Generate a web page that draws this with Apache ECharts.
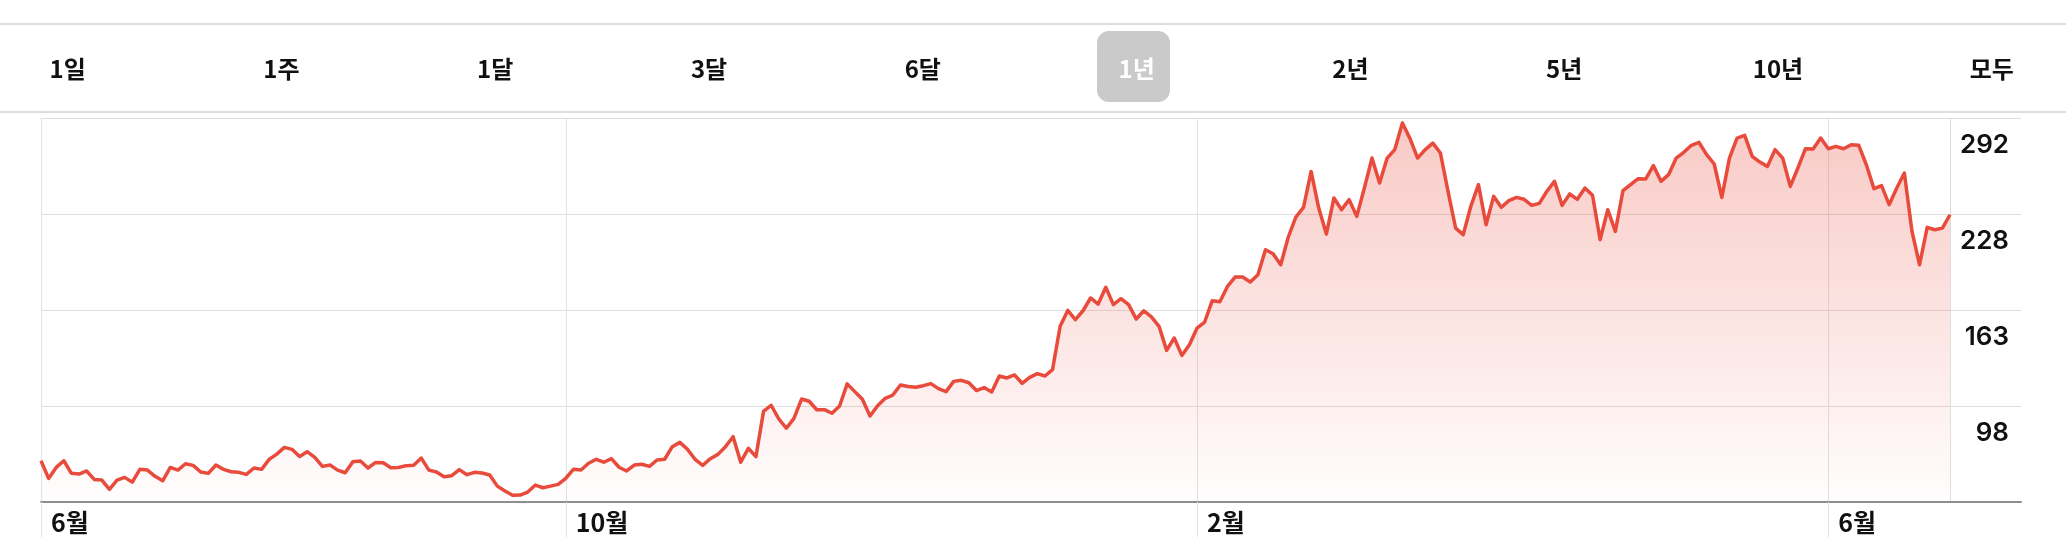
<!DOCTYPE html>
<html lang="ko">
<head>
<meta charset="utf-8">
<title>1년 주가 차트</title>
<script src="https://cdn.jsdelivr.net/npm/echarts@6/dist/echarts.min.js"></script>
<style>
  html, body { margin: 0; padding: 0; background: #ffffff; }
  #chart { width: 2066px; height: 558px; }
</style>
</head>
<body>
<div id="chart"></div>
<script>
// ---- data ----
const periodLabels = ['1일', '1주', '1달', '3달', '6달', '1년', '2년', '5년', '10년', '모두'];
const selectedPeriod = '1년';

// right-axis tick labels (bottom to top gridlines)
const yTickLabels = ['98', '163', '228', '292'];
const yMin = 33.6;
const yMax = 292.4;

// trading calendar
const startDate = '2022-06-24';
const holidays = ['2022-07-04', '2022-09-05', '2022-11-24', '2022-12-26', '2023-01-02',
  '2023-01-16', '2023-02-20', '2023-04-07', '2023-05-29', '2023-06-19'];
const monthLabelSuffix = '월';

// daily closing prices
const pricesJunSep = [
  61.4, 49.5, 56.9, 61.4, 52.9, 52.4, 54.5, 48.8, 48.4, 42.1,
  48.4, 50.2, 47.0, 55.6, 55.1, 50.9, 47.9, 56.9, 55.1, 59.4,
  58.3, 53.8, 52.9, 58.5, 55.6, 54.0, 53.6, 52.2, 56.5, 55.6,
  62.3, 65.9, 70.4, 69.1, 64.3, 67.5, 63.7, 57.6, 58.5, 55.1,
  53.3, 60.7, 61.2, 56.5, 60.3, 60.1, 56.7, 56.9, 58.1, 58.3,
  63.2, 55.1, 53.8, 50.6, 51.3, 55.4, 52.0, 53.6, 53.1, 51.8,
  44.3, 41.0, 38.1, 38.3, 40.3, 45.0, 43.2, 44.3, 45.5
];
const pricesOctDec = [
  49.6, 55.6, 55.2, 59.7, 62.4, 60.4, 62.8, 57.0, 54.5, 58.5,
  59.0, 57.6, 61.9, 62.4, 70.9, 73.8, 69.1, 62.4, 58.3, 62.8,
  65.7, 70.9, 77.6, 60.4, 69.8, 64.2, 94.7, 98.8, 89.6, 83.3,
  90.0, 103.0, 101.5, 95.8, 95.8, 93.4, 98.3, 113.2, 108.0, 102.8,
  91.6, 98.5, 103.5, 105.7, 112.5, 111.4, 110.9, 112.0, 113.4, 110.0,
  108.0, 114.9, 115.6, 114.0, 108.7, 110.7, 107.8, 118.5, 117.2, 119.2,
  113.6, 117.6
];
const pricesDecMar = [
  120.1, 118.5, 122.8, 152.0, 162.7, 156.5, 162.5, 171.1, 167.0, 178.3,
  166.6, 170.6, 166.6, 156.9, 162.5, 158.3, 152.0, 135.8, 144.1, 132.4,
  139.6, 150.8, 154.9, 169.3, 168.6, 178.9, 185.2, 185.2, 181.9, 186.8,
  203.6, 200.9, 193.5, 212.2, 225.7, 232.2, 256.4, 231.7, 214.2, 238.5,
  230.6, 237.4, 226.1, 245.2, 265.4, 248.6, 265.4, 271.1, 289.0, 278.5,
  265.4, 271.1, 275.5, 268.8, 243.0, 218.2, 213.8, 232.9, 247.5, 220.5
];
const pricesMarJun = [
  239.6, 232.2, 236.7, 238.9, 237.6, 233.5, 234.9, 243.0, 249.7, 233.5,
  241.2, 237.6, 245.2, 240.3, 210.4, 230.6, 216.0, 243.4, 247.5, 251.5,
  251.3, 260.3, 249.7, 254.2, 265.4, 269.3, 274.0, 276.0, 267.7, 261.4,
  238.9, 265.4, 278.9, 280.7, 266.6, 262.7, 259.8, 271.1, 265.4, 246.3,
  258.7, 271.7, 271.5, 278.9, 271.7, 273.3, 271.7, 274.4, 274.0, 260.9,
  244.8, 246.8, 234.0, 245.2, 255.3, 216.0, 193.5, 218.7, 217.1, 218.2,
  227.2
];
const prices = [].concat(pricesJunSep, pricesOctDec, pricesDecMar, pricesMarJun);

// ---- build trading-day categories ----
function buildDates(start, n, skip) {
  const out = [];
  const d = new Date(start + 'T00:00:00Z');
  while (out.length < n) {
    const wd = d.getUTCDay();
    const s = d.toISOString().slice(0, 10);
    if (wd !== 0 && wd !== 6 && skip.indexOf(s) < 0) out.push(s);
    d.setUTCDate(d.getUTCDate() + 1);
  }
  return out;
}
const dates = buildDates(startDate, prices.length, holidays);
const monthOf = (s) => +s.slice(5, 7);
function isMonthMark(i) {
  const first = i === 0 || monthOf(dates[i - 1]) !== monthOf(dates[i]);
  return first && ((monthOf(dates[i]) - 6 + 12) % 4 === 0);
}

// ---- chart ----
const chart = echarts.init(document.getElementById('chart'), null, { renderer: 'canvas' });
const korFont = '"Noto Sans CJK KR", "Noto Sans", sans-serif';
const lineColor = '#e84a3b';

const option = {
  animation: false,
  backgroundColor: '#ffffff',
  grid: [
    { left: 41, right: 116, top: 118, bottom: 56, outerBoundsMode: 'none', containLabel: false },
    { left: 41, right: 45, top: 118, bottom: 56, outerBoundsMode: 'none', containLabel: false }
  ],
  xAxis: [
    {
      type: 'category',
      gridIndex: 0,
      data: dates,
      boundaryGap: false,
      axisLine: { show: false },
      axisTick: {
        show: true,
        interval: (i) => isMonthMark(i),
        length: 35,
        lineStyle: { color: '#e2e2e2', width: 1 }
      },
      axisLabel: {
        show: true,
        interval: (i) => isMonthMark(i),
        formatter: (v) => monthOf(v) + monthLabelSuffix,
        align: 'left',
        padding: [0, 0, 0, 10],
        margin: 8,
        fontSize: 25,
        fontWeight: 'bold',
        fontFamily: korFont,
        color: '#111111'
      },
      splitLine: {
        show: true,
        interval: (i) => isMonthMark(i),
        lineStyle: { color: '#e2e2e2', width: 1 }
      }
    },
    {
      type: 'value',
      gridIndex: 1,
      min: 0,
      max: 1,
      axisLine: { show: true, lineStyle: { color: '#8e8e8e', width: 2 } },
      axisTick: { show: false },
      axisLabel: { show: false },
      splitLine: { show: false }
    }
  ],
  yAxis: [
    {
      type: 'value',
      gridIndex: 0,
      min: yMin,
      max: yMax,
      position: 'right',
      axisLine: { show: true, lineStyle: { color: '#dedede', width: 1 } },
      axisTick: { show: false },
      axisLabel: { show: false },
      splitLine: { show: false }
    },
    {
      type: 'value',
      gridIndex: 1,
      min: 0,
      max: yTickLabels.length,
      interval: 1,
      position: 'right',
      axisLine: { show: false },
      axisTick: { show: false },
      splitLine: { show: true, lineStyle: { color: '#dedede', width: 1 } },
      axisLabel: {
        show: true,
        inside: true,
        showMinLabel: true,
        showMaxLabel: true,
        margin: 12,
        align: 'right',
        verticalAlign: 'top',
        lineHeight: 54,
        fontSize: 26,
        fontWeight: 600,
        fontFamily: 'Inter, "Noto Sans", sans-serif',
        color: '#111111',
        formatter: (v) => (v >= 1 ? yTickLabels[Math.round(v) - 1] : '')
      }
    }
  ],
  series: [
    {
      type: 'line',
      xAxisIndex: 0,
      yAxisIndex: 0,
      data: prices,
      symbol: 'none',
      showSymbol: false,
      lineStyle: { color: lineColor, width: 3.5, join: 'round' },
      areaStyle: {
        color: new echarts.graphic.LinearGradient(0, 0, 0, 1, [
          { offset: 0, color: 'rgba(232,74,59,0.42)' },
          { offset: 1, color: 'rgba(232,74,59,0.01)' }
        ])
      },
      z: 3
    }
  ],
  graphic: [
    { type: 'line', silent: true, shape: { x1: 0, y1: 24, x2: 2066, y2: 24 }, style: { stroke: '#d2d2d2', lineWidth: 1.5 } },
    { type: 'line', silent: true, shape: { x1: 0, y1: 112, x2: 2066, y2: 112 }, style: { stroke: '#d2d2d2', lineWidth: 1.5 } },
    { type: 'rect', silent: true, shape: { x: 1097, y: 31, width: 73, height: 71, r: 12 }, style: { fill: '#cacaca' } }
  ].concat(periodLabels.map((t, i) => ({
    type: 'text',
    silent: true,
    x: 67.6 + 213.8 * i,
    y: 69,
    z: 10,
    style: {
      text: t,
      align: 'center',
      verticalAlign: 'middle',
      fontSize: 24,
      fontWeight: 'bold',
      fontFamily: korFont,
      fill: t === selectedPeriod ? '#ffffff' : '#111111'
    }
  })))
};
chart.setOption(option);
</script>
</body>
</html>
